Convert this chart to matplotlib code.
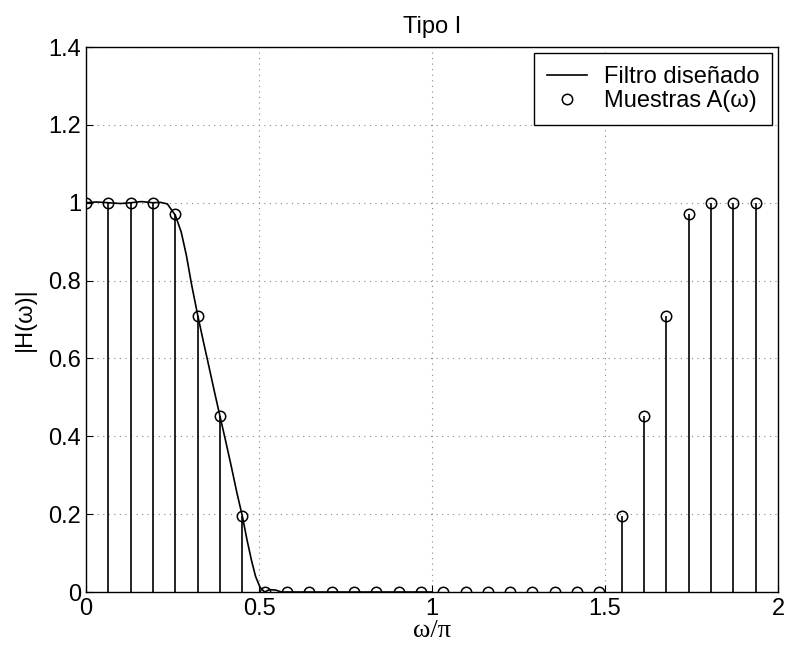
import numpy as np
import matplotlib
matplotlib.use("Agg")
import matplotlib.pyplot as plt

plt.rcParams["font.family"] = ["Liberation Sans", "DejaVu Sans"]

# frequency samples A(w), N = 31, positions w/pi = 2k/N
sample_k = list(range(31))
sample_vals = [1, 1, 1, 1, 0.97, 0.71, 0.452, 0.194,
               0, 0, 0, 0, 0, 0, 0, 0, 0, 0, 0, 0, 0, 0, 0, 0,
               0.194, 0.452, 0.71, 0.97, 1, 1, 1]
n_samples = 31

# designed filter response (w/pi, |H|)
curve_x = [0.0, 0.03, 0.065, 0.10, 0.129, 0.16, 0.194, 0.215, 0.235, 0.258,
           0.275, 0.29, 0.305, 0.323, 0.34, 0.355, 0.371, 0.387, 0.403,
           0.42, 0.436, 0.452, 0.465, 0.478, 0.49, 0.503, 0.516, 0.53,
           0.548, 0.565, 0.581, 1.0]
curve_y = [1.0, 1.002, 1.0, 0.998, 1.0, 1.003, 1.0, 1.001, 0.997, 0.968,
           0.925, 0.865, 0.79, 0.71, 0.64, 0.58, 0.515, 0.452, 0.39,
           0.322, 0.255, 0.194, 0.135, 0.082, 0.04, 0.012, 0.0, 0.006,
           0.005, 0.0, 0.0, 0.0]

FS = 17

fig = plt.figure(figsize=(7.85, 6.48), dpi=100)
ax = fig.add_axes([0.1096, 0.0864, 0.8815, 0.8410])

ax.plot(curve_x, curve_y, color="black", lw=1.2, label="Filtro diseñado")

xs = np.array(sample_k) * 2.0 / n_samples
vals = np.array(sample_vals)
ax.vlines(xs, 0, vals, color="black", lw=1.2)
ax.plot(xs, vals, "o", mfc="none", mec="black", ms=7.5, mew=1.1,
        label="Muestras A(ω)")

ax.set_xlim(0, 2)
ax.set_ylim(0, 1.4)
ax.set_xticks([0, 0.5, 1, 1.5, 2])
ax.set_xticklabels(["0", "0.5", "1", "1.5", "2"])
ax.set_yticks([0, 0.2, 0.4, 0.6, 0.8, 1.0, 1.2, 1.4])
ax.set_yticklabels(["0", "0.2", "0.4", "0.6", "0.8", "1", "1.2", "1.4"])
ax.tick_params(direction="in", labelsize=FS, length=5, width=0.8)
ax.tick_params(axis="x", pad=4.5)
ax.tick_params(axis="y", pad=3.5)
ax.grid(True, color="#888888", ls=(0, (1, 4)), lw=0.8)
for s in ax.spines.values():
    s.set_linewidth(1.0)

ax.set_title("Tipo I", fontsize=FS, pad=10)
ax.set_xlabel("ω/π", fontsize=19, labelpad=0,
              family=["Liberation Serif", "DejaVu Serif"])
ax.set_ylabel("|H(ω)|", fontsize=FS, labelpad=9)

leg = ax.legend(loc="upper right", fontsize=FS, fancybox=False,
                edgecolor="black", framealpha=1, borderaxespad=0.25,
                handlelength=1.7, handletextpad=0.7, borderpad=0.55,
                labelspacing=0.1)
leg.get_frame().set_linewidth(1.0)

fig.savefig("out.png", dpi=100)
